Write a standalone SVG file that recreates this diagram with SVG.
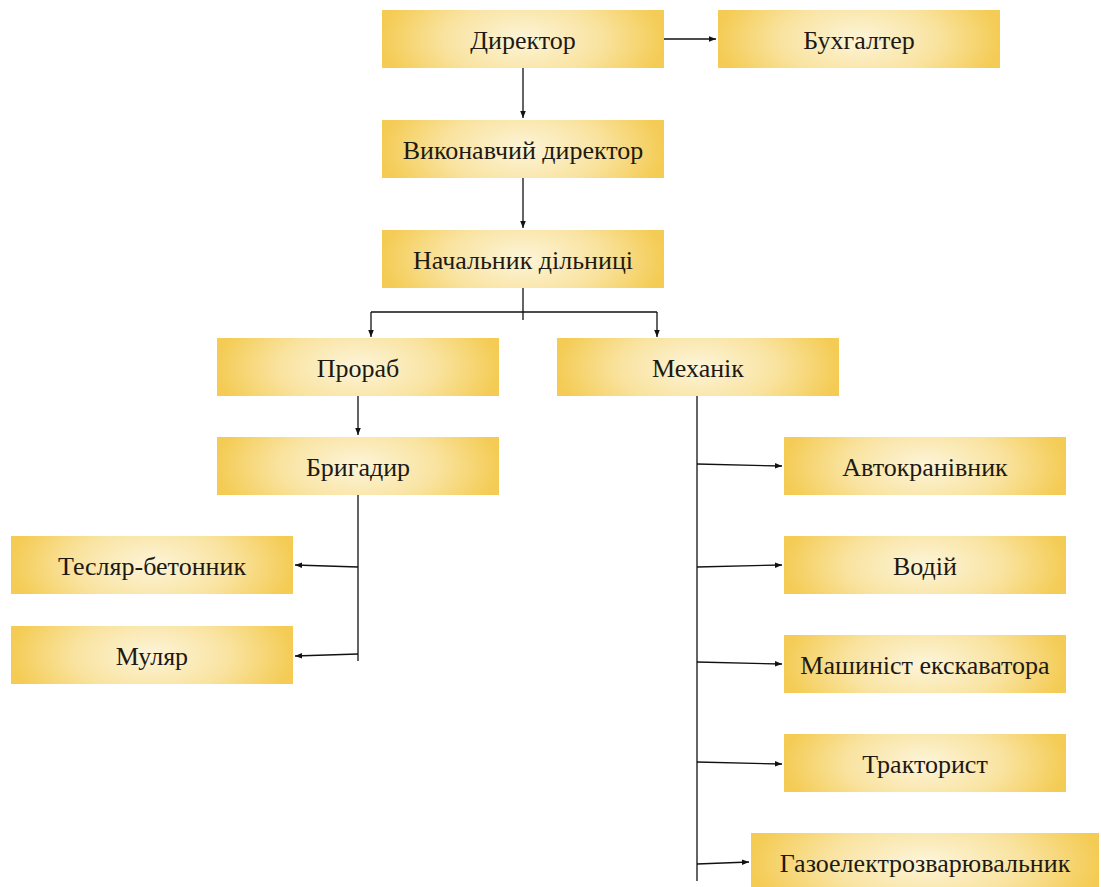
<svg xmlns="http://www.w3.org/2000/svg" width="1101" height="887" viewBox="0 0 1101 887">
<style>
.box{fill:url(#g);}
.t{font-family:'Liberation Serif','Tinos','Times New Roman','DejaVu Serif',serif;font-size:26px;fill:#1e1a12;text-anchor:middle;dominant-baseline:central;}
.c{stroke:#111;stroke-width:1.3;fill:none;}
.a{marker-end:url(#ar);}
</style>
<defs>
<radialGradient id="g" cx="0.5" cy="0.5" r="0.5" gradientTransform="translate(0.5 0.5) scale(1 2.4) translate(-0.5 -0.5)">
<stop offset="0" stop-color="#fdf5da"/>
<stop offset="0.55" stop-color="#f9e3a0"/>
<stop offset="1" stop-color="#f4cc55"/>
</radialGradient>
<marker id="ar" viewBox="0 0 10 10" refX="10" refY="5" markerWidth="7" markerHeight="7" orient="auto" markerUnits="userSpaceOnUse">
<path d="M0,1 L10,5 L0,9 Z" fill="#111"/>
</marker>
</defs>
<rect width="1101" height="887" fill="#fff"/>
<g id="connectors">
<path class="c a" d="M664,39 H716"/>
<path class="c a" d="M523,68 V118"/>
<path class="c a" d="M523,178 V228"/>
<path class="c" d="M523,288 V320"/>
<path class="c" d="M371,312 H657"/>
<path class="c a" d="M371,312 V337"/>
<path class="c a" d="M657,312 V337"/>
<path class="c a" d="M358,396 V435"/>
<path class="c" d="M358,495 V661"/>
<path class="c a" d="M358,567 L295,565"/>
<path class="c a" d="M358,654 L295,656"/>
<path class="c" d="M697,396 V881"/>
<path class="c a" d="M697,464 L782,466"/>
<path class="c a" d="M697,567 L782,565"/>
<path class="c a" d="M697,662 L782,664"/>
<path class="c a" d="M697,762 L782,764"/>
<path class="c a" d="M697,864 L749,862"/>
</g>
<g id="n-director"><rect class="box" x="382" y="10" width="282" height="58"/><text class="t" x="523" y="40">Директор</text></g>
<g id="n-buh"><rect class="box" x="718" y="10" width="282" height="58"/><text class="t" x="859" y="40">Бухгалтер</text></g>
<g id="n-vykon"><rect class="box" x="382" y="120" width="282" height="58"/><text class="t" x="523" y="150">Виконавчий директор</text></g>
<g id="n-nach"><rect class="box" x="382" y="230" width="282" height="58"/><text class="t" x="523" y="260">Начальник дільниці</text></g>
<g id="n-prorab"><rect class="box" x="217" y="338" width="282" height="58"/><text class="t" x="358" y="368">Прораб</text></g>
<g id="n-mech"><rect class="box" x="557" y="338" width="282" height="58"/><text class="t" x="698" y="368">Механік</text></g>
<g id="n-brig"><rect class="box" x="217" y="437" width="282" height="58"/><text class="t" x="358" y="467">Бригадир</text></g>
<g id="n-tesl"><rect class="box" x="11" y="536" width="282" height="58"/><text class="t" x="152" y="566">Тесляр-бетонник</text></g>
<g id="n-mul"><rect class="box" x="11" y="626" width="282" height="58"/><text class="t" x="152" y="656">Муляр</text></g>
<g id="n-avto"><rect class="box" x="784" y="437" width="282" height="58"/><text class="t" x="925" y="467">Автокранівник</text></g>
<g id="n-vodii"><rect class="box" x="784" y="536" width="282" height="58"/><text class="t" x="925" y="566">Водій</text></g>
<g id="n-mash"><rect class="box" x="784" y="635" width="282" height="58"/><text class="t" x="925" y="665">Машиніст екскаватора</text></g>
<g id="n-trak"><rect class="box" x="784" y="734" width="282" height="58"/><text class="t" x="925" y="764">Тракторист</text></g>
<g id="n-gaz"><rect class="box" x="751" y="833" width="348" height="58"/><text class="t" x="925" y="863">Газоелектрозварювальник</text></g>
</svg>
